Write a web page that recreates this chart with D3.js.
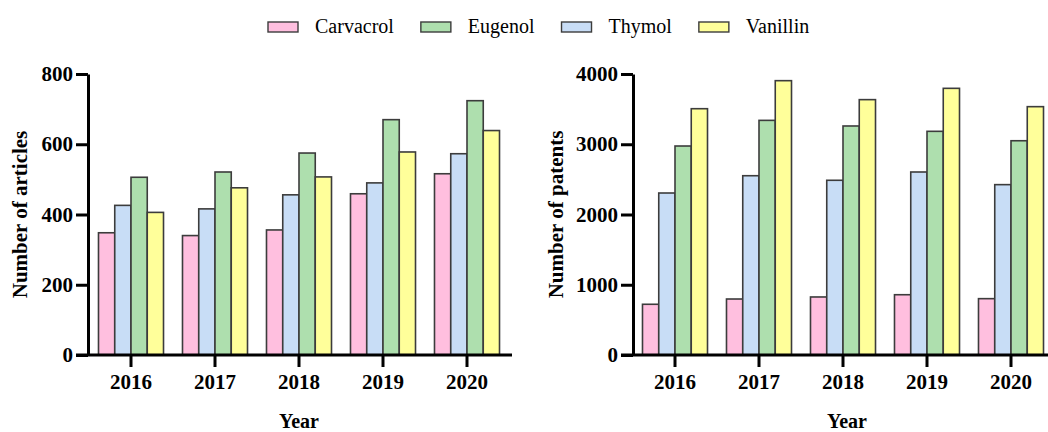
<!DOCTYPE html>
<html>
<head>
<meta charset="utf-8">
<script src="https://cdn.jsdelivr.net/npm/d3@7"></script>
<style>
  html, body { margin: 0; padding: 0; background: #fff; }
  svg { display: block; }
</style>
</head>
<body>
<svg id="chart" width="1048" height="432"></svg>
<script>
// ---- data ----
const years = ["2016", "2017", "2018", "2019", "2020"];
const legendOrder = ["Carvacrol", "Eugenol", "Thymol", "Vanillin"];
const barOrder = ["Carvacrol", "Thymol", "Eugenol", "Vanillin"];
const seriesColors = { Carvacrol: "#FFBFDF", Eugenol: "#AEDFAE", Thymol: "#C8DDF6", Vanillin: "#FFFF9A" };

const articlesCarvacrol = [348, 340, 356, 459, 516];
const articlesThymol    = [426, 416, 456, 490, 573];
const articlesEugenol   = [506, 521, 575, 670, 724];
const articlesVanillin  = [406, 476, 507, 578, 639];

const patentsCarvacrol = [722, 797, 826, 858, 802];
const patentsThymol    = [2306, 2552, 2487, 2605, 2425];
const patentsEugenol   = [2975, 3340, 3260, 3184, 3050];
const patentsVanillin  = [3506, 3905, 3635, 3796, 3535];

const articleTicks = [0, 200, 400, 600, 800];
const patentTicks = [0, 1000, 2000, 3000, 4000];

const articles = { Carvacrol: articlesCarvacrol, Thymol: articlesThymol, Eugenol: articlesEugenol, Vanillin: articlesVanillin };
const patents  = { Carvacrol: patentsCarvacrol, Thymol: patentsThymol, Eugenol: patentsEugenol, Vanillin: patentsVanillin };

const FONT = "'Liberation Serif', 'Times New Roman', Times, serif";
const svg = d3.select("#chart").style("font-family", FONT);

function panel(cfg) {
  const { data, ticks, xRange, yTop, yBottom, axisX, label, axisEnd, labelOffset, yearShift } = cfg;
  const x = d3.scaleBand().domain(years).range(xRange).paddingInner(0.226).paddingOuter(0.113);
  const xs = d3.scaleBand().domain(barOrder).range([0, x.bandwidth()]);
  const y = d3.scaleLinear().domain([0, ticks[ticks.length - 1]]).range([yBottom, yTop]);
  const g = svg.append("g");

  // bars
  barOrder.forEach(s => {
    g.append("g").selectAll("rect").data(years).join("rect")
      .attr("x", (d) => x(d) + xs(s))
      .attr("y", (d, i) => y(data[s][i]))
      .attr("width", xs.bandwidth())
      .attr("height", (d, i) => y(0) - y(data[s][i]))
      .attr("fill", seriesColors[s])
      .attr("stroke", "#3c3c3c")
      .attr("stroke-width", 1.6);
  });

  // y axis
  const ya = g.append("g").attr("transform", `translate(${axisX},0)`)
    .call(d3.axisLeft(y).tickValues(ticks).tickSize(12).tickSizeOuter(0).tickPadding(3).tickFormat(d3.format("d")));
  ya.attr("font-family", null);
  ya.select(".domain").attr("stroke", "#000").attr("stroke-width", 3);
  ya.selectAll(".tick line").attr("stroke", "#000").attr("stroke-width", 3);
  ya.selectAll(".tick text").style("font-size", "21px").style("font-weight", "bold")
    .style("font-family", FONT).attr("fill", "#000");

  // x axis
  const xa = g.append("g").attr("transform", `translate(0,${yBottom})`)
    .call(d3.axisBottom(x).tickSize(12).tickSizeOuter(0).tickPadding(7));
  xa.attr("font-family", null);
  xa.select(".domain").remove();
  xa.selectAll(".tick line").attr("stroke", "#000").attr("stroke-width", 3);
  xa.selectAll(".tick text").style("font-size", "21px").style("font-weight", "bold")
    .style("font-family", FONT).attr("fill", "#000");
  xa.append("line").attr("x1", axisX - 12).attr("x2", axisEnd).attr("y1", 0).attr("y2", 0)
    .attr("stroke", "#000").attr("stroke-width", 3);

  // axis titles
  const cx = (xRange[0] + xRange[1]) / 2 + yearShift;
  g.append("text").attr("x", cx).attr("y", 428).attr("text-anchor", "middle")
    .style("font-family", FONT).style("font-size", "20px").style("font-weight", "bold").text("Year");
  g.append("text")
    .attr("transform", `translate(${axisX - labelOffset},${(yTop + yBottom) / 2}) rotate(-90)`)
    .attr("text-anchor", "middle").style("font-family", FONT)
    .style("font-size", "21px").style("font-weight", "bold").text(label);
}

panel({ data: articles, ticks: articleTicks, xRange: [89, 509], yTop: 74, yBottom: 355, axisX: 88, axisEnd: 512, label: "Number of articles", labelOffset: 61, yearShift: 0 });
panel({ data: patents, ticks: patentTicks, xRange: [633, 1053], yTop: 74, yBottom: 355, axisX: 633, axisEnd: 1048, label: "Number of patents", labelOffset: 70, yearShift: 4 });

// legend
const lg = svg.append("g");
let lx = 268;
legendOrder.forEach(s => {
  lg.append("rect").attr("x", lx).attr("y", 22).attr("width", 30).attr("height", 10)
    .attr("fill", seriesColors[s]).attr("stroke", "#3c3c3c").attr("stroke-width", 1.4);
  const t = lg.append("text").attr("x", lx + 47).attr("y", 33)
    .style("font-family", FONT).style("font-size", "20px").text(s);
  const w = t.node().getComputedTextLength();
  lx = lx + 47 + w + 27;
});
</script>
</body>
</html>
